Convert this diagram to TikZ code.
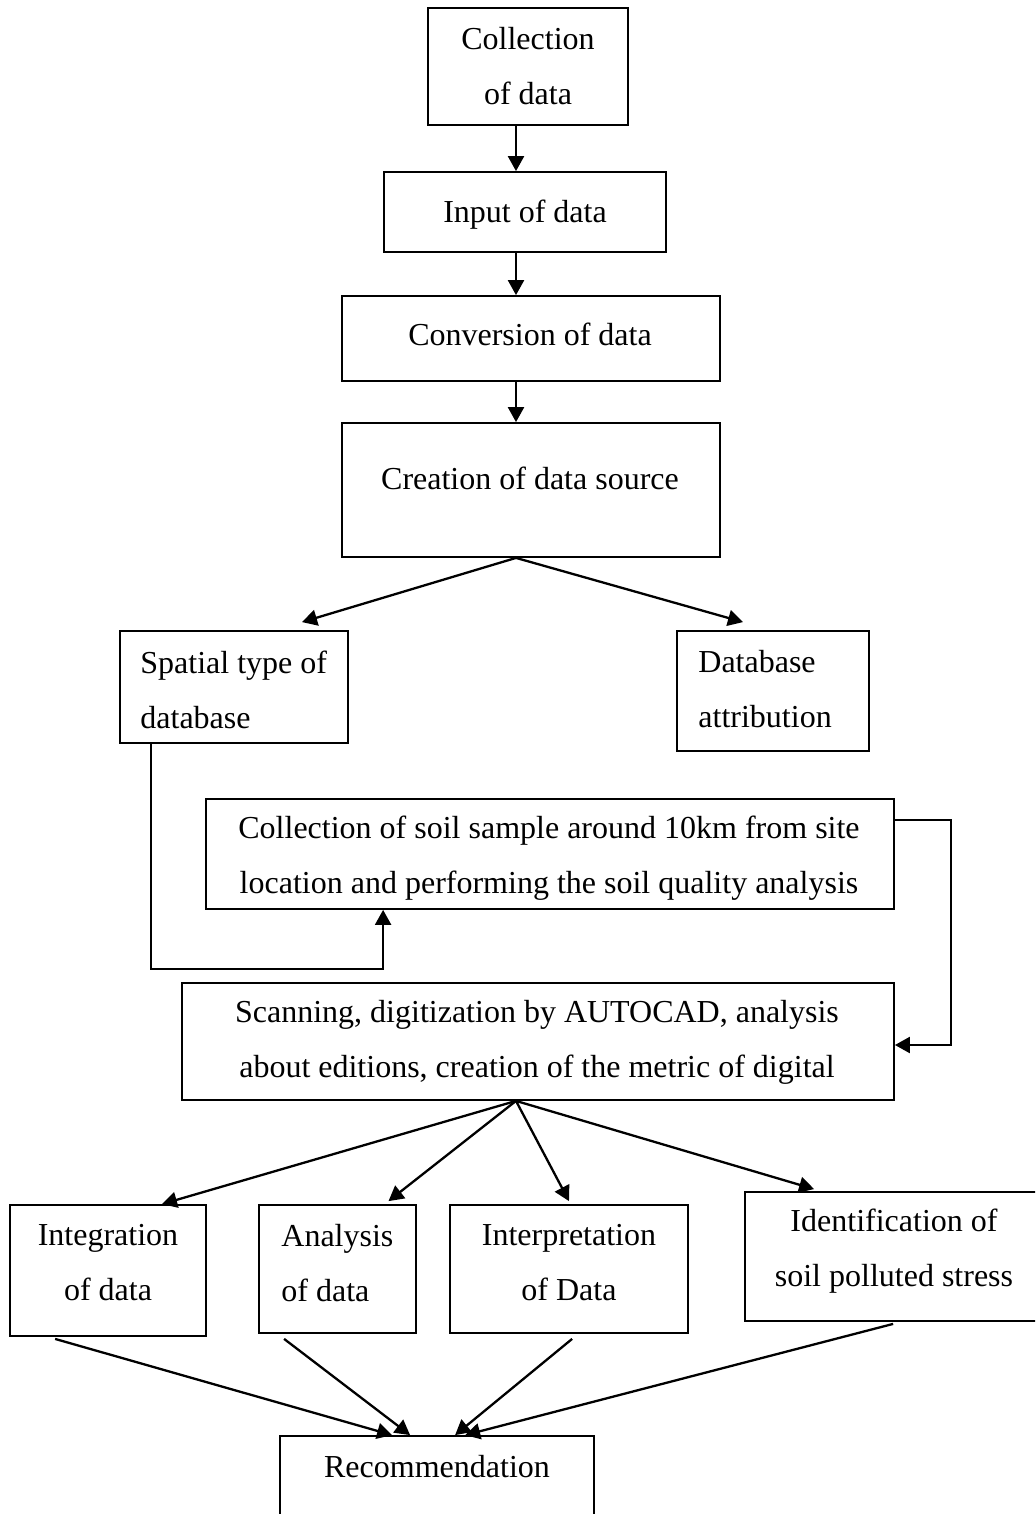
\documentclass[tikz,border=0pt]{standalone}
\usepackage{fontspec}
\setmainfont{Liberation Serif}
\usetikzlibrary{arrows.meta,fit,calc}
\begin{document}
\begin{tikzpicture}[x=0.5pt,y=-0.5pt,
  box/.style={draw, line width=0.9pt, inner sep=0pt},
  txt/.style={font=\fontsize{16}{27.5}\selectfont, inner sep=0pt},
  arr/.style={line width=1.15pt, -{Triangle[length=7.5pt,width=8pt]}}]
\clip (0,0) rectangle (1035,1514);
\fill[white] (0,0) rectangle (1035,1514);
% boxes
\node[box, fit={(428,8) (628,125)}] (c1) {};
\node[box, fit={(384,172) (666,252)}] (c2) {};
\node[box, fit={(342,296) (720,381)}] (c3) {};
\node[box, fit={(342,423) (720,557)}] (c4) {};
\node[box, fit={(120,631) (348,743)}] (c5) {};
\node[box, fit={(677,631) (869,751)}] (c6) {};
\node[box, fit={(206,799) (894,909)}] (c7) {};
\node[box, fit={(182,983) (894,1100)}] (c8) {};
\node[box, fit={(10,1205) (206,1336)}] (c9) {};
\node[box, fit={(259,1205) (416,1333)}] (c10) {};
\node[box, fit={(450,1205) (688,1333)}] (c11) {};
\node[box, fit={(745,1192) (1060,1321)}] (c12) {};
\node[box, fit={(280,1436) (594,1540)}] (c13) {};
% texts
\node[txt, align=center] (t1) at (528,66) {Collection\\of data};
\node[txt] (t2) at (525,215) {Input of data};
\node[txt] (t3) at (530,334) {Conversion of data};
\node[txt] (t4) at (530,478) {Creation of data source};
\node[txt, align=left, anchor=west] (t5) at (140,689.5) {Spatial type of\\database};
\node[txt, align=left, anchor=west] (t6) at (698,689.5) {Database\\attribution};
\node[txt, align=center] (t7) at (549,858) {Collection of soil sample around 10km from site\\location and performing the soil quality analysis};
\node[txt, align=center] (t8) at (537,1042) {Scanning, digitization by AUTOCAD, analysis\\about editions, creation of the metric of digital};
\node[txt, align=center] (t9) at (108,1263) {Integration\\of data};
\node[txt, align=left, anchor=west] (t10) at (281,1263) {Analysis\\of data};
\node[txt, align=center] (t11) at (569,1263) {Interpretation\\of Data};
\node[txt, align=center] (t12) at (894,1251) {Identification of\\soil polluted stress};
\node[txt] (t13) at (437,1467) {Recommendation};
% coordinates
\coordinate (s1) at ($(c1.south)+(-12,0)$);
\coordinate (s2) at ($(c2.south)+(-9,0)$);
\coordinate (s3) at ($(c3.south)+(-15,0)$);
\coordinate (s4) at ($(c4.south)+(-15,0)$);
\coordinate (s8) at ($(c8.south)+(-22,0)$);
% vertical chain
\draw[arr] (s1) -- (s1 |- c2.north);
\draw[arr] (s2) -- (s2 |- c3.north);
\draw[arr] (s3) -- (s3 |- c4.north);
% split
\draw[arr] (s4) -- ($(c5.north)+(68,-8)$);
\draw[arr] (s4) -- ($(c6.north)+(-30,-8)$);
% spatial feed to soil sample
\draw[arr] ($(c5.south west)+(32,0)$) -- ++(0,225) -| ($(c7.south west)+(178,0)$);
% soil sample feed to scanning
\draw[arr] ($(c7.east)+(0,-34)$) -- ++(56,0) |- ($(c8.east)+(0,3.5)$);
% scanning fan out
\draw[arr] (s8) -- ($(c9.north)+(54,0)$);
\draw[arr] (s8) -- ($(c10.north)+(51,-3)$);
\draw[arr] (s8) -- ($(c11.north)+(0,-3)$);
\draw[arr] (s8) -- ($(c12.north west)+(70,-2)$);
% to recommendation
\draw[arr] ($(c9.south west)+(46,2)$) -- ($(c13.north west)+(113,0)$);
\draw[arr] ($(c10.south west)+(26,5)$) -- ($(c13.north west)+(131,0)$);
\draw[arr] ($(c11.south west)+(123,5)$) -- ($(c13.north west)+(176,0)$);
\draw[arr] ($(c12.south west)+(149,2)$) -- ($(c13.north west)+(186,0)$);
\end{tikzpicture}
\end{document}
